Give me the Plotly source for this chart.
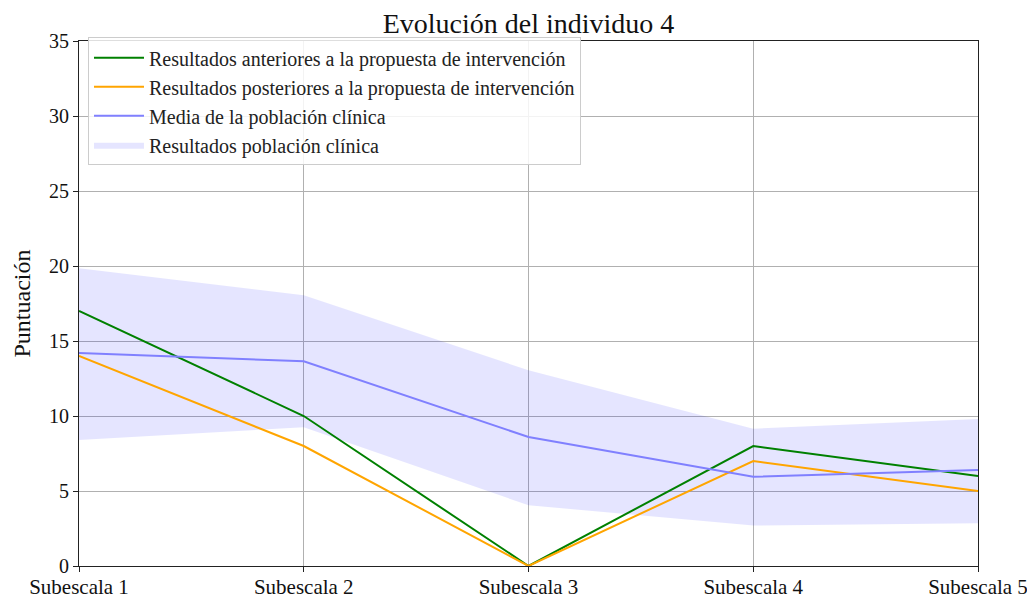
import plotly.graph_objects as go

categories = ["Subescala 1", "Subescala 2", "Subescala 3", "Subescala 4", "Subescala 5"]
antes = [17, 10, 0, 8, 6]
despues = [14, 8, 0, 7, 5]
media = [14.2, 13.65, 8.6, 5.95, 6.4]
banda_sup = [19.85, 18.05, 13.05, 9.15, 9.8]
banda_inf = [8.4, 9.25, 4.05, 2.7, 2.85]
y_ticks = [0, 5, 10, 15, 20, 25, 30, 35]

xs = list(range(len(categories)))
FONT = "Liberation Serif, Times New Roman, serif"

fig = go.Figure()
fig.add_trace(go.Scatter(x=xs, y=banda_inf, mode="lines", line=dict(width=0),
                         showlegend=False, hoverinfo="skip"))
fig.add_trace(go.Scatter(x=xs, y=banda_sup, mode="lines", line=dict(width=0),
                         fill="tonexty", fillcolor="rgba(0,0,255,0.1)",
                         name="Resultados población clínica", legendrank=4))
fig.add_trace(go.Scatter(x=xs, y=antes, mode="lines", line=dict(color="green", width=2),
                         name="Resultados anteriores a la propuesta de intervención", legendrank=1))
fig.add_trace(go.Scatter(x=xs, y=despues, mode="lines", line=dict(color="orange", width=2),
                         name="Resultados posteriores a la propuesta de intervención", legendrank=2))
fig.add_trace(go.Scatter(x=xs, y=media, mode="lines", line=dict(color="#8080ff", width=2),
                         name="Media de la población clínica", legendrank=3))

fig.update_layout(
    width=1027, height=592,
    margin=dict(l=71, r=57, t=33, b=34),
    paper_bgcolor="white", plot_bgcolor="white",
    font=dict(family=FONT, color="#111"),
    title=dict(text="Evolución del individuo 4", x=0.5, xref="paper", xanchor="center",
               y=0.975, yref="container", yanchor="middle", font=dict(size=28, family=FONT, color="#111")),
    legend=dict(x=0.01, y=1.007, xanchor="left", yanchor="top", traceorder="normal",
                bgcolor="rgba(255,255,255,0.85)", bordercolor="#cccccc", borderwidth=1,
                itemwidth=50,
                font=dict(size=20, family=FONT, color="#222")),
    showlegend=True,
)
fig.update_xaxes(range=[0, 4], tickvals=xs, ticktext=categories, automargin=False,
                 showgrid=True, gridcolor="#b0b0b0", gridwidth=1,
                 showline=True, linecolor="#222", linewidth=1.2, mirror=True,
                 ticks="outside", ticklen=5, tickcolor="#222", ticklabelstandoff=-3,
                 tickfont=dict(size=21, family=FONT, color="#111"), zeroline=False)
fig.update_yaxes(range=[0, 35], tickvals=y_ticks, automargin=False,
                 showgrid=True, gridcolor="#b0b0b0", gridwidth=1,
                 showline=True, linecolor="#222", linewidth=1.2, mirror=True,
                 ticks="outside", ticklen=5, tickcolor="#222",
                 tickfont=dict(size=20, family=FONT, color="#111"), zeroline=False,
                 title=dict(text="Puntuación", font=dict(size=24, family=FONT, color="#111"), standoff=11))

fig.write_html("out.html")
